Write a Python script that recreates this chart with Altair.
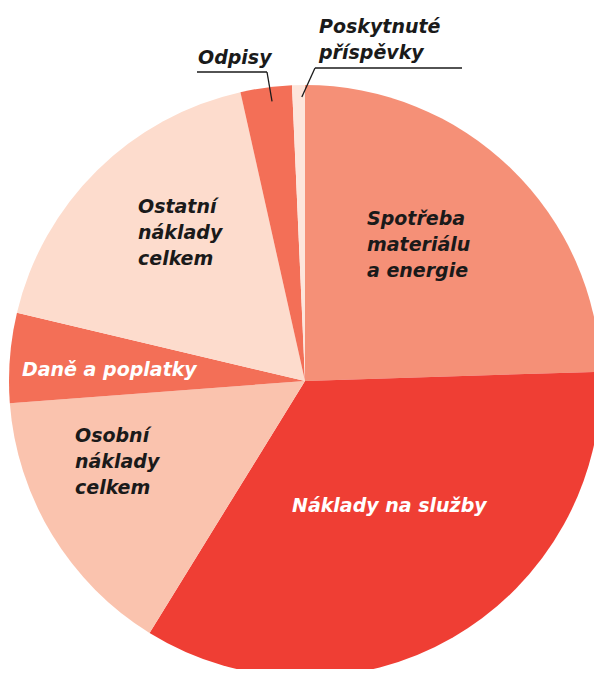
import math
import altair as alt
import pandas as pd

# --- data (share of costs, %) ---
categories = [
    "Spotřeba materiálu a energie",
    "Náklady na služby",
    "Osobní náklady celkem",
    "Daně a poplatky",
    "Ostatní náklady celkem",
    "Odpisy",
    "Poskytnuté příspěvky",
]
values = [24.5, 34.3, 15.0, 4.9, 17.8, 2.8, 0.7]
label_lines = [
    ["Spotřeba", "materiálu", "a energie"],
    ["Náklady na služby"],
    ["Osobní", "náklady", "celkem"],
    ["Daně a poplatky"],
    ["Ostatní", "náklady", "celkem"],
    ["Odpisy"],
    ["Poskytnuté", "příspěvky"],
]

# --- styling / layout ---
colors = ["#F59077", "#EF3E34", "#FAC3AE", "#F36F57", "#FDDCCD", "#F36F57", "#FDE5DB"]
label_colors = ["#1a1a1a", "#ffffff", "#1a1a1a", "#ffffff", "#1a1a1a", "#1a1a1a", "#1a1a1a"]
label_x = [359, 284, 67, 14, 130, 190, 311]
label_y = [217, 504, 434, 368, 205, 56, 25]
CX, CY, R = 297, 373, 296
FONT = "DejaVu Sans"

df = pd.DataFrame({"category": categories, "value": values, "order": list(range(len(values)))})

pie = alt.Chart(df).mark_arc(outerRadius=R, stroke=None).encode(
    x=alt.value(CX),
    y=alt.value(CY),
    theta=alt.Theta("value:Q", stack=True),
    order=alt.Order("order:Q"),
    color=alt.Color("category:N", scale=alt.Scale(domain=categories, range=colors), legend=None),
)

labels_df = pd.DataFrame({
    "label": label_lines,
    "lx": label_x,
    "ly": label_y,
    "lc": label_colors,
})
labels = alt.Chart(labels_df).mark_text(
    align="left", baseline="alphabetic", lineHeight=26,
    font=FONT, fontSize=19, fontStyle="italic", fontWeight="bold",
).encode(
    x=alt.X("lx:Q", scale=None),
    y=alt.Y("ly:Q", scale=None),
    text="label",
    color=alt.Color("lc:N", scale=None),
)

# leader lines: end points inside the small slices at their mid angles
total = sum(values)
cum = [sum(values[:i]) for i in range(len(values))]
def inner_point(i, r=281):
    a = (cum[i] + values[i] / 2) / total * 2 * math.pi
    return CX + r * math.sin(a), CY - r * math.cos(a)

ox, oy = inner_point(5)
px, py = inner_point(6)
lines_df = pd.DataFrame({
    "x": [189, 259, 307, 307],
    "y": [64, 64, 60, 60],
    "x2": [259, ox + 4, 454, px + 3],
    "y2": [64, oy - 1, 60, py - 3],
})
leaders = alt.Chart(lines_df).mark_rule(color="#1a1a1a", strokeWidth=1.3).encode(
    x=alt.X("x:Q", scale=None),
    y=alt.Y("y:Q", scale=None),
    x2="x2:Q",
    y2="y2:Q",
)

chart = alt.layer(pie, leaders, labels).properties(
    width=586, height=661, autosize="none", padding=0
).configure_view(stroke=None)

chart.save("out.html", embed_options={
    "renderer": "svg",
    "actions": False,
    "defaultStyle": "svg { overflow: visible !important; } html, body { overflow: hidden !important; }",
})
